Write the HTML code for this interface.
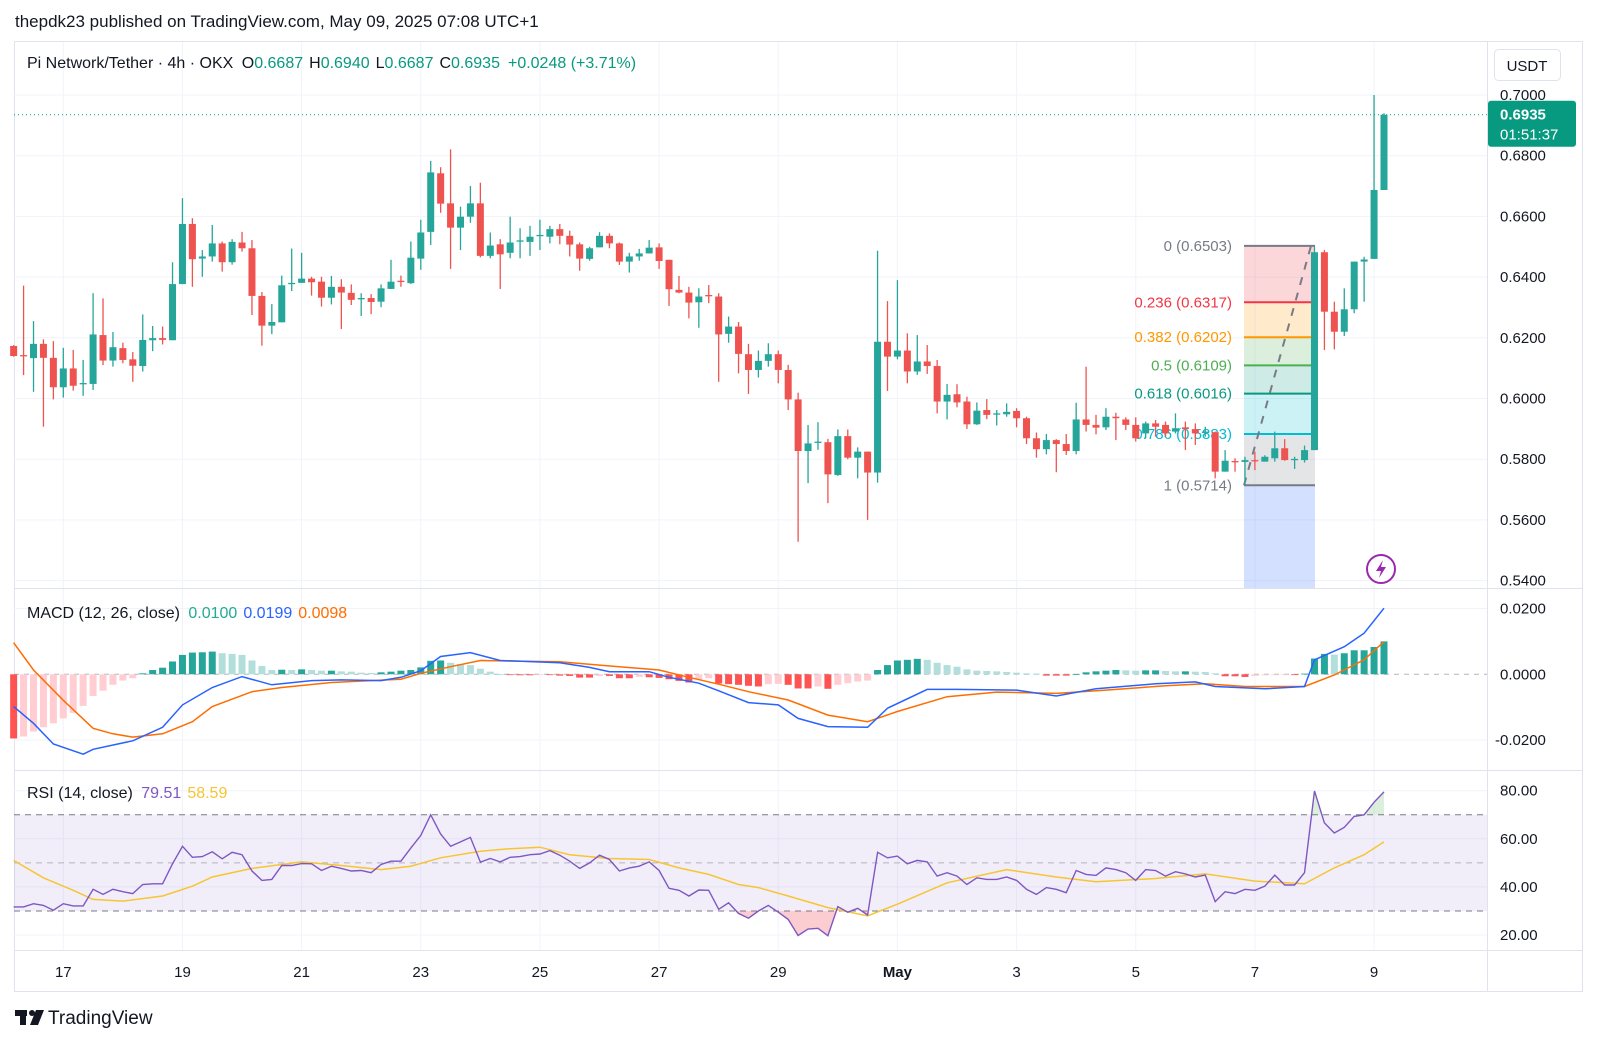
<!DOCTYPE html>
<html><head><meta charset="utf-8"><style>
html,body{margin:0;padding:0;background:#fff;}
svg{display:block;font-family:"Liberation Sans",sans-serif;}
</style></head><body>
<svg id="chart" width="1600" height="1044" viewBox="0 0 1600 1044" xmlns="http://www.w3.org/2000/svg">
<rect x="0" y="0" width="1600" height="1044" fill="#ffffff"/>
<text x="15" y="27" font-size="17" fill="#131722">thepdk23 published on TradingView.com, May 09, 2025 07:08 UTC+1</text>
<rect x="14.5" y="41.5" width="1568" height="950" fill="none" stroke="#e0e3eb"/>
<g id="grid"></g>
<g id="fib"></g>
<g id="candles"></g>
<g id="macd"></g>
<g id="rsi"></g>
<g id="axes"></g>
<line x1="14" y1="588.5" x2="1582" y2="588.5" stroke="#e0e3eb"/>
<line x1="14" y1="770.5" x2="1582" y2="770.5" stroke="#e0e3eb"/>
<line x1="14" y1="950.5" x2="1582" y2="950.5" stroke="#e0e3eb"/>
<line x1="1487.5" y1="41" x2="1487.5" y2="991" stroke="#e0e3eb"/>
<text x="27" y="68" font-size="16" fill="#131722">Pi Network/Tether · 4h · OKX <tspan dx="4">O</tspan><tspan fill="#089981">0.6687</tspan><tspan dx="6">H</tspan><tspan fill="#089981">0.6940</tspan><tspan dx="6">L</tspan><tspan fill="#089981">0.6687</tspan><tspan dx="6">C</tspan><tspan fill="#089981">0.6935</tspan><tspan dx="8" fill="#089981">+0.0248 (+3.71%)</tspan></text>
<g><rect x="1494.5" y="49.5" width="66" height="31" rx="4" fill="#fff" stroke="#e0e3eb"/><text x="1527" y="71" font-size="15" text-anchor="middle" fill="#131722">USDT</text></g>
<text x="27" y="618" font-size="16" fill="#131722">MACD (12, 26, close) <tspan dx="4" fill="#22ab94">0.0100</tspan><tspan dx="6" fill="#2962ff">0.0199</tspan><tspan dx="6" fill="#ff6d00">0.0098</tspan></text>
<text x="27" y="798" font-size="16" fill="#131722">RSI (14, close) <tspan dx="4" fill="#7e57c2">79.51</tspan><tspan dx="6" fill="#f7c531">58.59</tspan></text>
<g><circle cx="1381" cy="569" r="14" fill="#fff" stroke="#9c27b0" stroke-width="2"/><path d="M1383 560 L1376 571 L1381 571 L1379 578 L1386 567 L1381 567 Z" fill="#9c27b0"/></g>
<g><rect x="15" y="1010" width="12" height="6" fill="#131722"/><rect x="20" y="1010" width="6" height="15" fill="#131722"/><circle cx="32" cy="1013" r="3" fill="#131722"/><path d="M36 1010 L44 1010 L38 1025 L30 1025 Z" fill="#131722"/><text x="48" y="1024" font-size="19" fill="#131722">TradingView</text></g>
</svg>
<script>
var opens=[.6173,.6143,.6133,.6180,.6134,.6037,.6099,.6048,.6048,.6209,.6125,.6166,.6129,.6107,.6192,.6199,.6192,.6377,.6575,.6461,.6468,.6511,.6449,.6514,.6495,.6338,.6240,.6251,.6377,.6381,.6395,.6385,.6332,.6368,.6348,.6327,.6331,.6319,.6361,.6388,.6380,.6461,.6549,.6742,.6643,.6563,.6599,.6643,.6470,.6508,.6480,.6518,.6516,.6537,.6533,.6558,.6536,.6508,.6460,.6498,.6536,.6511,.6451,.6468,.6478,.6498,.6457,.6358,.6349,.6317,.6341,.6336,.6213,.6237,.6146,.6094,.6124,.6146,.6094,.5997,.5827,.5856,.5856,.5748,.5876,.5805,.5825,.5756,.6187,.6138,.6158,.6089,.6122,.6107,.5990,.6014,.5990,.5915,.5962,.5949,.5948,.5959,.5935,.5869,.5833,.5863,.5850,.5827,.5931,.5913,.5905,.5940,.5931,.5913,.5885,.5918,.5913,.5891,.5905,.5899,.5888,.5889,.5759,.5794,.5791,.5797,.5792,.5803,.5836,.5797,.5797,.5830,.6482,.6286,.6220,.6294,.6451,.6460,.6687];
var highs=[.6176,.6372,.6255,.6195,.6189,.6167,.6160,.6127,.6347,.6330,.6219,.6184,.6153,.6277,.6239,.6237,.6449,.6660,.6594,.6489,.6572,.6517,.6525,.6549,.6522,.6351,.6311,.6405,.6494,.6480,.6401,.6401,.6404,.6393,.6376,.6347,.6344,.6376,.6457,.6405,.6517,.6589,.6783,.6762,.6821,.6632,.6700,.6711,.6547,.6525,.6599,.6561,.6569,.6589,.6569,.6575,.6553,.6514,.6500,.6548,.6544,.6514,.6480,.6493,.6522,.6511,.6457,.6404,.6368,.6363,.6374,.6347,.6270,.6252,.6180,.6158,.6182,.6158,.6111,.6019,.5913,.5922,.5867,.5898,.5898,.5839,.5825,.6487,.6321,.6390,.6215,.6209,.6176,.6127,.6048,.6047,.6006,.5987,.5998,.5962,.5984,.5968,.5940,.5888,.5883,.5866,.5883,.5986,.6105,.5946,.5968,.5953,.5938,.5938,.5924,.5929,.5924,.5951,.5924,.5918,.5907,.5891,.5830,.5803,.5808,.5825,.5813,.5891,.5866,.5808,.5845,.6500,.6489,.6319,.6363,.6451,.6467,.7000,.6940];
var lows=[.6138,.6077,.6022,.5907,.5997,.6003,.6026,.6009,.6028,.6110,.6105,.6116,.6055,.6089,.6156,.6178,.6192,.6377,.6368,.6401,.6451,.6418,.6441,.6484,.6275,.6174,.6212,.6251,.6354,.6381,.6339,.6303,.6310,.6229,.6308,.6272,.6278,.6301,.6361,.6368,.6377,.6424,.6506,.6612,.6427,.6489,.6579,.6465,.6462,.6361,.6462,.6462,.6470,.6489,.6511,.6508,.6468,.6421,.6454,.6498,.6495,.6440,.6415,.6454,.6478,.6427,.6305,.6347,.6264,.6233,.6314,.6055,.6184,.6083,.6015,.6069,.6105,.6050,.5962,.5528,.5721,.5831,.5655,.5745,.5800,.5737,.5600,.5723,.6025,.6129,.6050,.6078,.6081,.5951,.5931,.5971,.5900,.5913,.5932,.5911,.5940,.5905,.5850,.5805,.5816,.5757,.5814,.5816,.5891,.5882,.5896,.5863,.5896,.5858,.5869,.5874,.5874,.5885,.5830,.5847,.5874,.5737,.5759,.5759,.5715,.5764,.5792,.5792,.5795,.5768,.5789,.5830,.6160,.6162,.6206,.6281,.6319,.6460,.6687];
var closes=[.6140,.6140,.6180,.6134,.6037,.6099,.6042,.6051,.6211,.6125,.6169,.6127,.6108,.6193,.6199,.6193,.6377,.6575,.6459,.6468,.6511,.6449,.6516,.6495,.6338,.6240,.6252,.6373,.6381,.6395,.6383,.6332,.6368,.6349,.6325,.6331,.6318,.6363,.6385,.6385,.6464,.6547,.6745,.6642,.6563,.6599,.6643,.6470,.6504,.6475,.6514,.6521,.6533,.6539,.6558,.6536,.6507,.6461,.6495,.6536,.6511,.6451,.6468,.6478,.6497,.6453,.6360,.6349,.6316,.6336,.6339,.6211,.6237,.6147,.6094,.6124,.6146,.6094,.5997,.5827,.5852,.5858,.5750,.5876,.5805,.5825,.5756,.6187,.6138,.6158,.6089,.6122,.6107,.5990,.6012,.5987,.5915,.5960,.5946,.5951,.5956,.5935,.5869,.5833,.5863,.5850,.5827,.5931,.5913,.5904,.5940,.5935,.5913,.5869,.5918,.5907,.5885,.5902,.5899,.5885,.5891,.5759,.5795,.5790,.5797,.5794,.5808,.5836,.5797,.5801,.5830,.6482,.6286,.6220,.6294,.6451,.6458,.6687,.6935];
var histVals=[-.0195,-.0189,-.0174,-.0161,-.0149,-.0134,-.0117,-.0096,-.0066,-.0050,-.0032,-.0019,-.0012,.0003,.0013,.0020,.0039,.0059,.0066,.0067,.0069,.0064,.0062,.0059,.0042,.0025,.0013,.0014,.0013,.0015,.0013,.0011,.0011,.0009,.0008,.0005,.0004,.0006,.0008,.0011,.0013,.0021,.0041,.0042,.0035,.0031,.0028,.0017,.0008,.0001,-.0002,-.0003,-.0003,-.0002,-.0002,-.0004,-.0005,-.0010,-.0010,-.0005,-.0005,-.0012,-.0012,-.0008,-.0009,-.0011,-.0015,-.0020,-.0025,-.0015,-.0012,-.0028,-.0030,-.0032,-.0035,-.0037,-.0030,-.0029,-.0032,-.0043,-.0043,-.0037,-.0044,-.0032,-.0027,-.0022,-.0019,.0013,.0028,.0042,.0044,.0047,.0044,.0035,.0028,.0023,.0015,.0011,.0010,.0009,.0007,.0005,.0003,.0002,-.0004,-.0004,-.0004,.0001,.0006,.0009,.0011,.0013,.0012,.0011,.0012,.0012,.0010,.0009,.0009,.0008,.0007,.0003,-.0006,-.0006,-.0008,-.0005,-.0003,-.0002,-.0001,-.0001,.0002,.0048,.0062,.0060,.0064,.0073,.0073,.0083,.0100];
var macdIdx=[0,2,4,7,8,12,15,17,20,23,26,30,33,37,39,41,43,46,49,55,58,60,64,66,69,71,74,77,79,82,86,88,92,95,101,105,109,115,119,121,126,130,131,134,136,138];
var macdVals=[-.0098,-.0149,-.0212,-.0243,-.0228,-.0202,-.0161,-.0093,-.0040,-.0007,-.0032,-.0019,-.0017,-.0019,-.0009,.0011,.0054,.0066,.0042,.0035,.0021,.0008,.0008,-.0009,-.0027,-.0050,-.0086,-.0093,-.0134,-.0159,-.0161,-.0103,-.0046,-.0046,-.0048,-.0066,-.0044,-.0029,-.0023,-.0037,-.0044,-.0037,.0044,.0084,.0125,.0201];
var signalIdx=[0,2,5,8,10,12,15,18,20,24,27,32,39,41,44,47,55,59,65,68,71,74,78,82,86,89,94,99,105,110,116,120,124,130,133,136,138];
var signalVals=[.0096,.0013,-.0079,-.0164,-.0181,-.0191,-.0181,-.0144,-.0098,-.0053,-.0040,-.0025,-.0015,.0003,.0023,.0042,.0038,.0028,.0013,-.0009,-.0030,-.0053,-.0078,-.0124,-.0144,-.0113,-.0068,-.0054,-.0058,-.0048,-.0035,-.0029,-.0037,-.0037,-.0002,.0044,.0099];
var rsiVals=[31.7,31.7,33.0,32.3,30.3,33.0,32.1,32.1,39.0,36.9,39.0,38.0,37.2,41.0,41.3,41.3,49.6,56.9,52.3,52.6,54.6,51.7,54.4,53.4,46.6,42.7,43.1,48.9,48.9,49.7,49.6,46.8,48.6,47.7,46.6,46.8,45.9,49.3,50.7,50.7,56.2,61.4,70.0,62.0,56.9,58.7,60.6,50.3,51.8,50.4,52.3,52.6,53.4,53.7,55.1,53.2,50.7,47.7,50.0,53.2,51.4,46.6,47.9,48.6,50.4,46.8,39.4,38.6,36.2,38.7,38.6,30.7,33.4,29.0,27.0,30.0,32.3,29.5,26.5,19.8,22.5,22.8,19.7,31.8,29.5,31.1,28.3,54.4,52.1,52.8,49.6,51.0,50.4,44.5,45.9,44.5,41.0,43.8,43.1,43.1,44.1,42.7,39.0,36.9,39.7,39.0,37.6,46.8,45.2,44.8,47.9,47.2,45.9,42.7,47.2,46.8,44.5,46.3,45.4,44.1,44.9,33.9,38.0,37.2,39.0,38.6,40.3,44.9,40.8,40.8,45.9,79.9,66.6,62.4,64.8,69.3,70.0,75.2,79.5];
var rsiMaIdx=[0,3,6,8,11,15,18,20,24,29,33,37,40,43,47,50,53,56,60,64,67,70,73,75,78,82,86,89,94,100,105,109,115,120,125,130,133,136,138];
var rsiMaVals=[51.0,43.8,38.6,34.8,34.1,36.2,40.3,44.1,47.7,50.4,48.9,47.2,48.6,52.1,54.8,55.9,56.5,53.4,51.8,51.4,47.9,45.2,41.0,39.7,36.2,31.4,28.0,32.8,41.7,47.2,44.1,42.1,43.5,45.4,42.4,41.3,47.9,53.4,58.7];
var priceTicks=[0.70,0.68,0.66,0.64,0.62,0.60,0.58,0.56,0.54];
var macdTicks=[0.02,0,-0.02];
var rsiTicks=[80,60,40,20];
var dayLabels=["17","19","21","23","25","27","29","May","3","5","7","9"];
var dayIdx=[5,17,29,41,53,65,77,89,101,113,125,137];
var fibRatios=["0","0.236","0.382","0.5","0.618","0.786","1"];
var fibPrices=[0.6503,0.6317,0.6202,0.6109,0.6016,0.5883,0.5714];
var lastPrice=0.6935;

var NS="http://www.w3.org/2000/svg";
function X(i){return 63.3+(i-5)*9.93;}
function Y(p){return 95+(0.70-p)*3035;}
function MY(v){return 674.3-v*3290;}
function RY(v){return 790.7+(80-v)*2.405;}
function mk(tag,attrs,parent){var e=document.createElementNS(NS,tag);for(var k in attrs)e.setAttribute(k,attrs[k]);parent.appendChild(e);return e;}
var grid=document.getElementById('grid'),axes=document.getElementById('axes');
var gc="#f0f3fa";
for(var d=0;d<dayIdx.length;d++){
  var vl=mk('line',{x1:X(dayIdx[d]),x2:X(dayIdx[d]),y1:42,y2:950,stroke:gc},grid);
  
  
  var tl=mk('text',{x:X(dayIdx[d]),y:977,'font-size':15,'text-anchor':'middle',fill:'#131722','font-weight':dayLabels[d]=="May"?'bold':'normal'},axes);
  tl.textContent=dayLabels[d];
  
  
}
for(var t=0;t<priceTicks.length;t++){
  var y=Y(priceTicks[t]);
  var hl=mk('line',{x1:14,x2:1487,y1:y,y2:y,stroke:gc},grid);
  
  
  var pl=mk('text',{x:1500,y:y+5,'font-size':15,fill:'#131722'},axes);
  pl.textContent=priceTicks[t].toFixed(4);
  
  
}
for(var t=0;t<macdTicks.length;t++){
  var y=MY(macdTicks[t]);
  if(macdTicks[t]!==0){var ml=mk('line',{x1:14,x2:1487,y1:y,y2:y,stroke:gc},grid);
  
  }
  var mt=mk('text',{x:macdTicks[t]<0?1495:1500,y:y+5,'font-size':15,fill:'#131722'},axes);
  mt.textContent=macdTicks[t].toFixed(4);
  
  
}
for(var t=0;t<rsiTicks.length;t++){
  var y=RY(rsiTicks[t]);
  var rl=mk('line',{x1:14,x2:1487,y1:y,y2:y,stroke:gc},grid);
  
  
  var rt=mk('text',{x:1500,y:y+5,'font-size':15,fill:'#131722'},axes);
  rt.textContent=rsiTicks[t].toFixed(2);
  
  
}
var lp=mk('line',{x1:14,x2:1487,y1:Y(lastPrice),y2:Y(lastPrice),stroke:'#089981','stroke-dasharray':'1 3'},axes);


var lpr=mk('rect',{x:1488,y:Y(lastPrice)-14,width:88,height:46,rx:3,fill:'#089981'},axes);


var lpt=mk('text',{x:1500,y:Y(lastPrice)+5,'font-size':15,fill:'#fff','font-weight':'bold'},axes);
lpt.textContent=lastPrice.toFixed(4);


var cd=mk('text',{x:1500,y:Y(lastPrice)+25,'font-size':15,fill:'#fff'},axes);
cd.textContent="01:51:37";



var fib=document.getElementById('fib');
var fx1=1244,fx2=1315;
var fibFill=["rgba(242,54,69,0.2)","rgba(255,152,0,0.2)","rgba(76,175,80,0.2)","rgba(8,153,129,0.2)","rgba(0,188,212,0.2)","rgba(120,123,134,0.2)"];
var fibCol=["#787b86","#f23645","#ff9800","#4caf50","#089981","#00bcd4","#787b86"];
for(var f=0;f<fibPrices.length-1;f++){
  var fr=mk('rect',{x:fx1,y:Y(fibPrices[f]),width:fx2-fx1,height:Y(fibPrices[f+1])-Y(fibPrices[f]),fill:fibFill[f]},fib);
  
  
}
var fb=mk('rect',{x:fx1,y:Y(fibPrices[6]),width:fx2-fx1,height:588-Y(fibPrices[6]),fill:'rgba(41,98,255,0.2)'},fib);


for(var f=0;f<fibPrices.length;f++){
  var y=Y(fibPrices[f]);
  var fl=mk('line',{x1:fx1,x2:fx2,y1:y,y2:y,stroke:fibCol[f],'stroke-width':2},fib);
  
  
  var ft=mk('text',{x:1232,y:y+5,'font-size':15,'text-anchor':'end',fill:fibCol[f]},fib);
  ft.textContent=fibRatios[f]+" ("+fibPrices[f].toFixed(4)+")";
  
  
}
var ftl=mk('line',{x1:fx1,y1:Y(fibPrices[6]),x2:fx2-4,y2:Y(fibPrices[0]),stroke:'#787b86','stroke-width':2,'stroke-dasharray':'8 8'},fib);



var cg=document.getElementById('candles');
for(var i=0;i<closes.length;i++){
  var up=closes[i]>=opens[i],col=up?'#26a69a':'#ef5350',cx=X(i);
  var w=mk('line',{x1:cx,x2:cx,y1:Y(highs[i]),y2:Y(lows[i]),stroke:col,'stroke-width':1.3},cg);
  
  
  var yTop=Y(Math.max(opens[i],closes[i])),yBot=Y(Math.min(opens[i],closes[i]));
  var b=mk('rect',{x:cx-3.5,y:yTop,width:7,height:Math.max(1.3,yBot-yTop),fill:col},cg);
  
  
}

var mg=document.getElementById('macd');
var z=mk('line',{x1:14,x2:1487,y1:MY(0),y2:MY(0),stroke:'#b2b5be','stroke-dasharray':'5 5'},mg);


for(var i=0;i<histVals.length;i++){
  var v=histVals[i],pv=i>0?histVals[i-1]:0,c;
  if(v>=0)c=(v>=pv)?'#26a69a':'#b2dfdb';else c=(v<=pv)?'#ff5252':'#ffcdd2';
  var y0=MY(0),y1=MY(v);
  var hb=mk('rect',{x:X(i)-3.5,y:Math.min(y0,y1),width:7,height:Math.max(0.8,Math.abs(y1-y0)),fill:c},mg);
  
  
}
function pts(idx,vals,fy){var s=[];for(var k=0;k<idx.length;k++)s.push(X(idx[k]).toFixed(1)+','+fy(vals[k]).toFixed(1));return s.join(' ');}
var sl=mk('polyline',{points:pts(signalIdx,signalVals,MY),fill:'none',stroke:'#ff6d00','stroke-width':1.5},mg);


var ml2=mk('polyline',{points:pts(macdIdx,macdVals,MY),fill:'none',stroke:'#2962ff','stroke-width':1.5},mg);



var rg=document.getElementById('rsi');
var band=mk('rect',{x:14,y:RY(70),width:1473,height:RY(30)-RY(70),fill:'rgba(126,87,194,0.1)'},rg);


[70,50,30].forEach(function(lv){
  var dl=mk('line',{x1:14,x2:1487,y1:RY(lv),y2:RY(lv),stroke:lv==50?'#b2b5be':'#787b86','stroke-dasharray':'6 5'},rg);
  
  
});
var allIdx=[];for(var i=0;i<rsiVals.length;i++)allIdx.push(i);
var defs=mk('defs',{},rg);
var cp1=mk('clipPath',{id:'osClip'},defs);mk('rect',{x:0,y:RY(30),width:1600,height:100},cp1);
var cp2=mk('clipPath',{id:'obClip'},defs);mk('rect',{x:0,y:760,width:1600,height:RY(70)-760},cp2);
var rp=pts(allIdx,rsiVals,RY);
var os=mk('polygon',{points:X(0)+','+RY(30)+' '+rp+' '+X(rsiVals.length-1)+','+RY(30),fill:'rgba(242,54,69,0.25)','clip-path':'url(#osClip)'},rg);


var ob=mk('polygon',{points:X(0)+','+RY(70)+' '+rp+' '+X(rsiVals.length-1)+','+RY(70),fill:'rgba(76,175,80,0.2)','clip-path':'url(#obClip)'},rg);


var rma=mk('polyline',{points:pts(rsiMaIdx,rsiMaVals,RY),fill:'none',stroke:'#f7c531','stroke-width':1.5},rg);


var rl2=mk('polyline',{points:rp,fill:'none',stroke:'#7e57c2','stroke-width':1.4},rg);


</script>
</body></html>
